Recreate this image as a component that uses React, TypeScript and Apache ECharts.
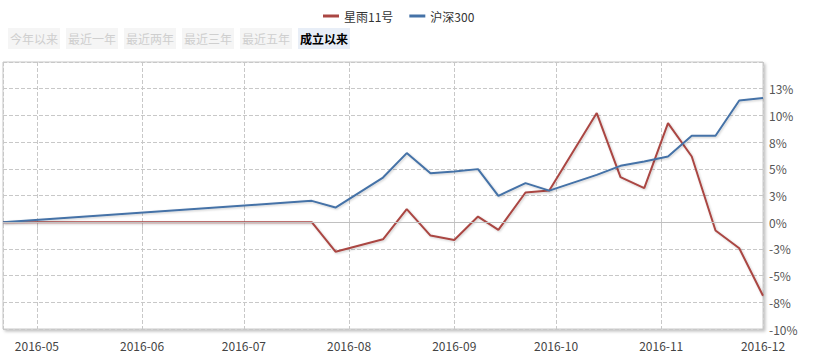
import React, { useEffect, useRef } from "react";
import * as echarts from "echarts";

const dates = [
  "2016-04-21", "2016-07-21", "2016-07-28", "2016-08-11", "2016-08-18",
  "2016-08-25", "2016-09-01", "2016-09-08", "2016-09-14", "2016-09-22",
  "2016-09-29", "2016-10-13", "2016-10-20", "2016-10-27", "2016-11-03",
  "2016-11-10", "2016-11-17", "2016-11-24", "2016-12-01",
];
const fundValues = [
  0, 0, -2.76, -1.6, 1.22, -1.25, -1.66, 0.53, -0.72, 2.78,
  2.96, 10.22, 4.22, 3.19, 9.28, 6.15, -0.78, -2.44, -6.88,
];
const indexValues = [
  0, 2.0, 1.37, 4.18, 6.47, 4.59, 4.74, 4.97, 2.47, 3.66,
  2.96, 4.43, 5.28, 5.68, 6.15, 8.09, 8.09, 11.4, 11.63,
];
const seriesNames = ["星雨11号", "沪深300"];
const rangeButtons = ["今年以来", "最近一年", "最近两年", "最近三年", "最近五年", "成立以来"];
const activeButton = "成立以来";

export default function App() {
  const ref = useRef<HTMLDivElement>(null);
  useEffect(() => {
    document.body.style.margin = "0";
    if (!ref.current) return;
    const chart = echarts.init(ref.current, undefined, { renderer: "svg" });
    const font = "'Noto Sans CJK SC', 'Noto Sans', sans-serif";
    const day = 86400000;
    const buttons: any[] = [];
    rangeButtons.forEach((b, i) => {
      const active = b === activeButton;
      const x = 8 + i * 58;
      buttons.push({
        type: "rect",
        shape: { x, y: 28, width: 52, height: 21 },
        style: { fill: active ? "#e8eef7" : "#f5f5f5" },
      });
      buttons.push({
        type: "text",
        x: x + 26,
        y: 38.5,
        style: {
          text: b,
          fill: active ? "#000" : "#cfcfcf",
          font: `${active ? "bold " : ""}12px ${font}`,
          align: "center",
          verticalAlign: "middle",
        },
      });
    });
    chart.setOption({
      animation: false,
      textStyle: { fontFamily: font },
      legend: {
        data: seriesNames,
        top: 5,
        left: 318,
        icon: "rect",
        itemWidth: 16,
        itemHeight: 3,
        itemGap: 16,
        textStyle: { fontSize: 12, color: "#333" },
      },
      graphic: buttons,
      grid: {
        show: true,
        left: 3,
        right: 55,
        top: 62,
        bottom: 28,
        borderColor: "#c8c8c8",
        borderWidth: 1,
        backgroundColor: "#fff",
        shadowColor: "rgba(0,0,0,0.25)",
        shadowBlur: 3,
        shadowOffsetX: 2,
        shadowOffsetY: 2,
      },
      xAxis: {
        type: "time",
        min: dates[0],
        max: dates[dates.length - 1],
        minInterval: 28 * day,
        maxInterval: 31 * day,
        axisLine: { show: false },
        axisTick: { show: true, length: 8, lineStyle: { color: "#c8c8c8", type: "dashed" } },
        axisLabel: {
          color: "#444",
          fontSize: 12,
          margin: 10,
          showMaxLabel: true,
          showMinLabel: false,
          formatter: (v: number) => {
            const d = new Date(v);
            const m = d.getMonth() + 1;
            return `${d.getFullYear()}-${m < 10 ? "0" + m : m}`;
          },
        },
        splitLine: { show: true, lineStyle: { color: "#c8c8c8", type: "dashed" } },
      },
      yAxis: {
        type: "value",
        position: "right",
        min: -10,
        max: 15,
        interval: 2.5,
        axisLine: { show: false },
        axisTick: { show: false },
        axisLabel: {
          color: "#555",
          fontSize: 12,
          margin: 6,
          formatter: (v: number) => (v >= 15 ? "" : v.toFixed(0) + "%"),
        },
        splitLine: { show: true, lineStyle: { color: "#c8c8c8", type: "dashed" } },
      },
      series: [
        {
          name: "zero",
          type: "line",
          data: [],
          z: 1,
          silent: true,
          markLine: {
            silent: true,
            symbol: "none",
            label: { show: false },
            lineStyle: { color: "#c0c0c0", type: "solid", width: 1 },
            data: [{ yAxis: 0 }],
          },
        },
        {
          name: seriesNames[0],
          type: "line",
          data: dates.map((d, i) => [d, fundValues[i]]),
          symbol: "none",
          z: 3,
          color: "#AA4643",
          lineStyle: {
            width: 2,
            color: "#AA4643",
            shadowColor: "rgba(0,0,0,0.2)",
            shadowBlur: 2,
            shadowOffsetX: 1,
            shadowOffsetY: 1,
          },
        },
        {
          name: seriesNames[1],
          type: "line",
          data: dates.map((d, i) => [d, indexValues[i]]),
          symbol: "none",
          z: 3,
          color: "#4572A7",
          lineStyle: {
            width: 2,
            color: "#4572A7",
            shadowColor: "rgba(0,0,0,0.2)",
            shadowBlur: 2,
            shadowOffsetX: 1,
            shadowOffsetY: 1,
          },
        },
      ],
    });
    return () => chart.dispose();
  }, []);
  return <div ref={ref} style={{ width: 818, height: 357 }} />;
}
